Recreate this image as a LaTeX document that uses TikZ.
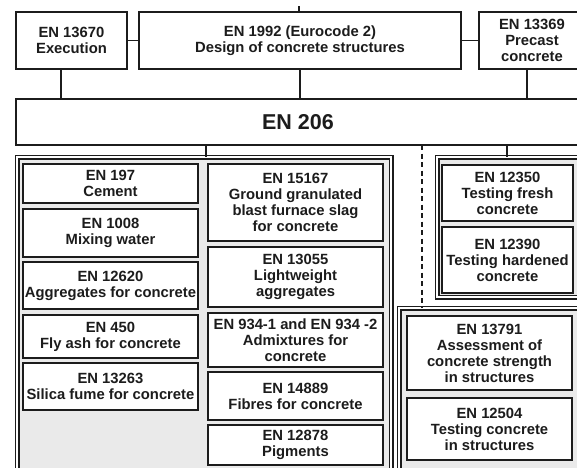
\documentclass[tikz,border=0pt]{standalone}
\usepackage{fontspec}
\setmainfont{Liberation Sans}
\definecolor{panelgray}{RGB}{234,234,234}
\definecolor{ink}{RGB}{28,28,28}
\newcommand\bxf{\fontsize{14.8}{16}\selectfont\bfseries}
\newcommand\bigf{\fontsize{21.5}{24}\selectfont\bfseries}
\newcommand\mybox[6]{\node[box, minimum width={#4-#2}, minimum height={#5-#3}, anchor=north west] (#1) at (#2,#3) {#6};}
\newcommand\mypanel[5]{\node[panel, minimum width={#4-#2}, minimum height={#5-#3}, anchor=north west] (#1) at (#2,#3) {};}
\begin{document}
\begin{tikzpicture}[x=1pt,y=-1pt,
  box/.style={draw=ink, line width=1.8pt, fill=white, align=center, inner sep=0pt, outer sep=0pt, font=\bxf, text=ink},
  panel/.style={draw=ink, line width=1.6pt, double=white, double distance=1.8pt, fill=panelgray, inner sep=0pt, outer sep=0pt},
  link/.style={draw=ink, line width=1.5pt}]
\useasboundingbox (0,0) rectangle (577,467);
\clip (0,0) rectangle (577,467);
\fill[white] (0,0) rectangle (577,467);
% top row
\mybox{e13670}{16}{12}{127}{69}{EN 13670\\Execution}
\mybox{e1992}{139}{12}{461}{69}{EN 1992 (Eurocode 2)\\Design of concrete structures}
\mybox{e13369}{479}{12}{585}{69}{EN 13369\\Precast\\concrete}
\node[box, font=\bigf, minimum width=564, minimum height=46, anchor=north west] (e206) at (16,99) {EN 206};
\coordinate (tk) at (299,6);
\draw[link] (e1992.north -| tk) -- (tk);
\draw[link] (e13670.east) -- (e1992.west);
\draw[link] (e1992.east) -- (e13369.west);
\draw[link] (e13670.south -| 61,0) -- (e206.north -| 61,0);
\draw[link] (e1992.south) -- (e1992.south |- e206.north);
\draw[link] (e13369.south -| 527,0) -- (e206.north -| 527,0);
% panels
\mypanel{pl}{17}{157}{391}{490}
\mypanel{pur}{437}{157}{592}{297}
\mypanel{plr}{399}{308}{592}{490}
\draw[link] (e206.south -| 206,0) -- (pl.north -| 206,0);
\draw[link, dash pattern=on 5pt off 3.5pt] (e206.south -| 422,0) -- (plr.north -| 422,0);
\draw[link] (e206.south -| 507,0) -- (pur.north -| 507,0);
% left column
\mybox{b197}{23}{164}{198}{203}{EN 197\\Cement}
\mybox{b1008}{23}{209}{198}{257}{EN 1008\\Mixing water}
\mybox{b12620}{23}{262}{198}{309}{EN 12620\\Aggregates for concrete}
\mybox{b450}{23}{315}{198}{358}{EN 450\\Fly ash for concrete}
\mybox{b13263}{23}{363}{198}{410}{EN 13263\\Silica fume for concrete}
% middle column
\mybox{b15167}{208}{164}{383}{241}{EN 15167\\Ground granulated\\blast furnace slag\\for concrete}
\mybox{b13055}{208}{247}{383}{307}{EN 13055\\Lightweight\\aggregates}
\mybox{b934}{208}{313}{383}{367}{EN 934-1 and EN 934 -2\\Admixtures for\\concrete}
\mybox{b14889}{208}{372}{383}{420}{EN 14889\\Fibres for concrete}
\mybox{b12878}{208}{425}{383}{465}{EN 12878\\Pigments}
% right upper
\mybox{b12350}{442}{165}{573}{221}{EN 12350\\Testing fresh\\concrete}
\mybox{b12390}{442}{227}{573}{293}{EN 12390\\Testing hardened\\concrete}
% right lower
\mybox{b13791}{407}{316}{572}{390}{EN 13791\\Assessment of\\concrete strength\\in structures}
\mybox{b12504}{407}{398}{572}{460}{EN 12504\\Testing concrete\\in structures}
\end{tikzpicture}
\end{document}
